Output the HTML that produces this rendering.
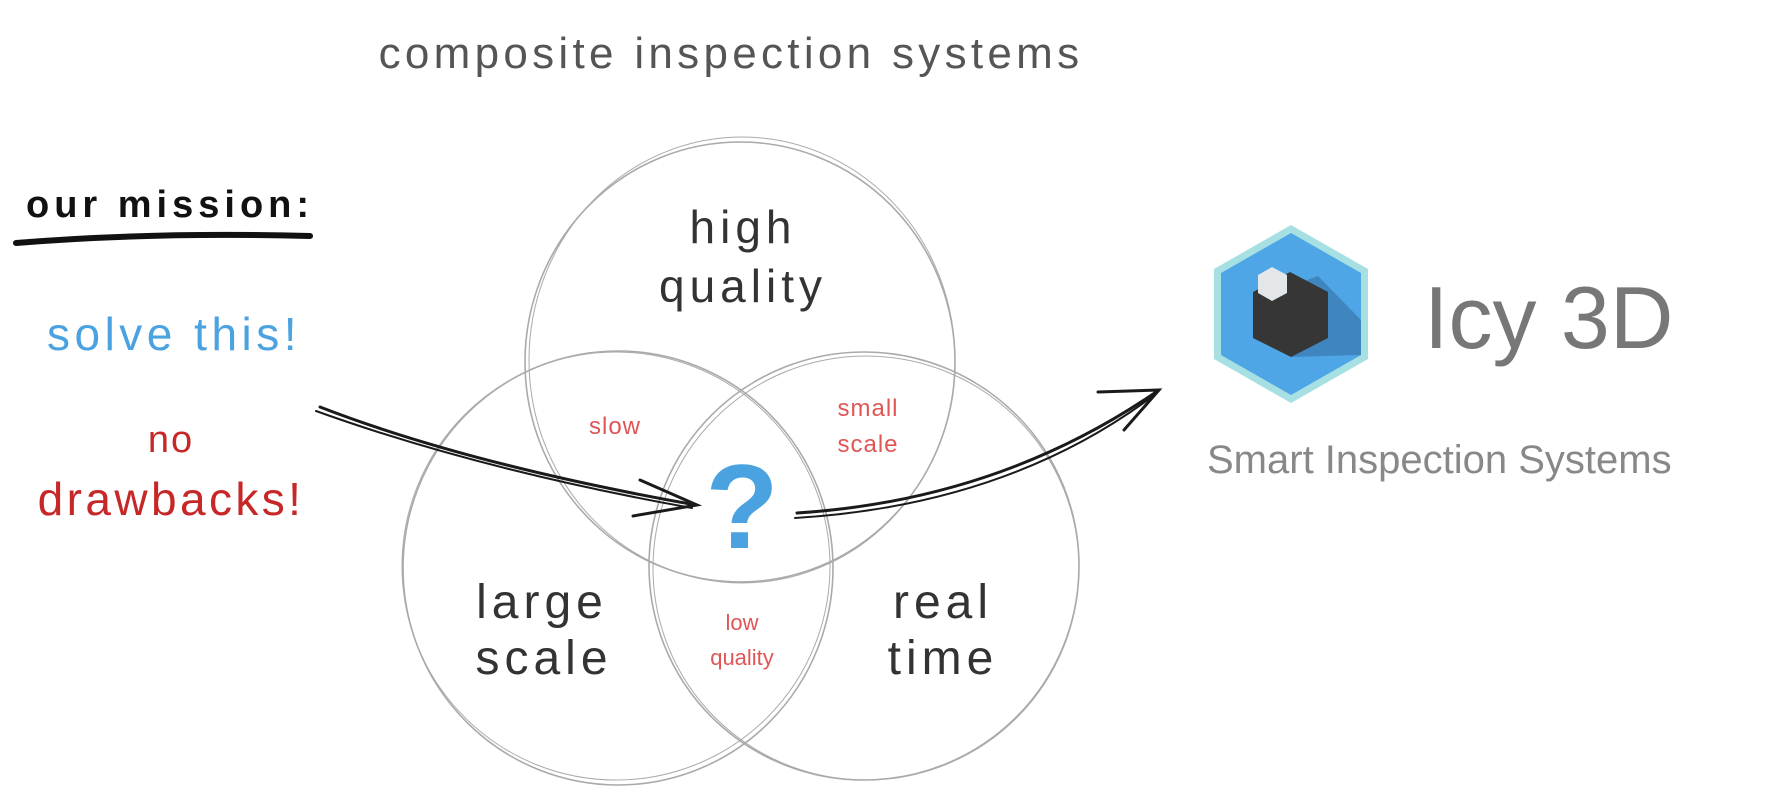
<!DOCTYPE html>
<html><head><meta charset="utf-8"><style>
html,body{margin:0;padding:0;background:#fff;width:1781px;height:800px;overflow:hidden}
svg text{font-family:"Liberation Sans","DejaVu Sans",sans-serif}
</style></head><body>
<svg width="1781" height="800" viewBox="0 0 1781 800" xmlns="http://www.w3.org/2000/svg">
<g fill="none" stroke="#aaa" stroke-width="1.6">
<ellipse cx="740" cy="362" rx="215" ry="220"/>
<ellipse cx="742" cy="360" rx="213" ry="223" stroke-width="1"/>
<ellipse cx="618" cy="568" rx="215" ry="217"/>
<ellipse cx="616" cy="566" rx="214" ry="214" stroke-width="1"/>
<ellipse cx="864" cy="566" rx="215" ry="214"/>
<ellipse cx="866" cy="568" rx="213" ry="212" stroke-width="1"/>
</g>
<text x="731" y="68" font-size="44" letter-spacing="4.3" fill="#555" text-anchor="middle">composite inspection systems</text>
<text x="26" y="217" font-size="38" font-weight="bold" letter-spacing="5" fill="#111">our mission:</text>
<path d="M16 243 Q150 232 310 236" stroke="#111" stroke-width="6" fill="none" stroke-linecap="round"/>
<text x="47" y="350" font-size="46" letter-spacing="4.5" fill="#4aa3e0">solve this!</text>
<text x="171" y="452" font-size="38" letter-spacing="2" fill="#c62828" text-anchor="middle">no</text>
<text x="171" y="515" font-size="46" letter-spacing="3.4" fill="#c62828" text-anchor="middle">drawbacks!</text>
<text x="743" y="243" font-size="46" letter-spacing="5" fill="#333" text-anchor="middle">high</text>
<text x="743" y="302" font-size="46" letter-spacing="5" fill="#333" text-anchor="middle">quality</text>
<text x="615" y="434" font-size="24" letter-spacing="1" fill="#e05555" text-anchor="middle">slow</text>
<text x="868" y="416" font-size="24" letter-spacing="1" fill="#e05555" text-anchor="middle">small</text>
<text x="868" y="452" font-size="24" letter-spacing="1" fill="#e05555" text-anchor="middle">scale</text>
<text x="742" y="548" font-size="120" font-weight="bold" fill="#4aa3e0" text-anchor="middle">?</text>
<text x="542" y="618" font-size="48" letter-spacing="5" fill="#333" text-anchor="middle">large</text>
<text x="544" y="674" font-size="48" letter-spacing="5" fill="#333" text-anchor="middle">scale</text>
<text x="742" y="630" font-size="22" fill="#e05555" text-anchor="middle">low</text>
<text x="742" y="665" font-size="22" fill="#e05555" text-anchor="middle">quality</text>
<text x="943" y="618" font-size="48" letter-spacing="5" fill="#333" text-anchor="middle">real</text>
<text x="943" y="674" font-size="48" letter-spacing="5" fill="#333" text-anchor="middle">time</text>
<g fill="none" stroke="#1a1a1a" stroke-width="3" stroke-linecap="round">
<path d="M320 407 Q470 465 696 505"/>
<path d="M316 411 Q480 470 692 508" stroke-width="2"/>
<path d="M640 480 L697 505 L633 516"/>
<path d="M797 513 Q1000 500 1159 390"/>
<path d="M795 518 Q1010 505 1157 393" stroke-width="2"/>
<path d="M1098 392 L1159 390 L1124 430"/>
</g>
<polygon points="1291,225 1368,269 1368,359 1291,403 1214,359 1214,269" fill="#a6e0e3"/>
<polygon points="1291,233 1361,273 1361,355 1291,395 1221,355 1221,273" fill="#4fa6e6"/>
<polygon points="1253,330 1291,357 1361,355 1361,320 1318,276 1253,300" fill="#3f86c0"/>
<polygon points="1290,272 1328,292 1328,338 1291,357 1253,338 1253,292" fill="#363636"/>
<polygon points="1272,267 1287,275 1287,293 1272,301 1258,293 1258,275" fill="#e4e7ea"/>
<text x="1424" y="348" font-size="88" fill="#777">Icy 3D</text>
<text x="1207" y="473" font-size="40" fill="#888">Smart Inspection Systems</text>
</svg>
</body></html>
